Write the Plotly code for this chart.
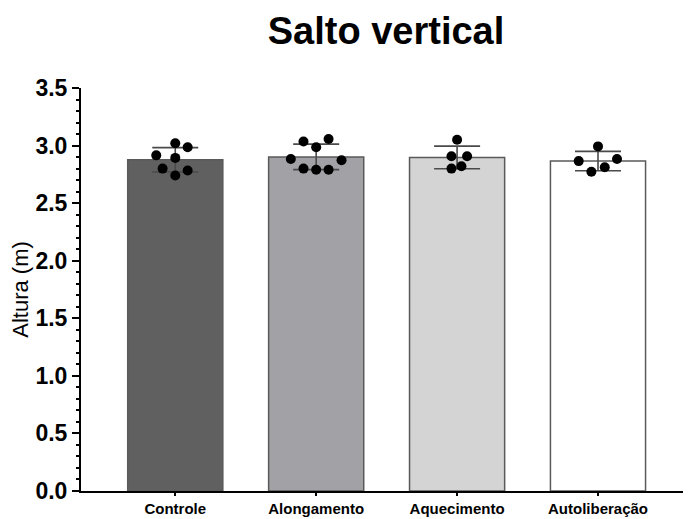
import numpy as np
import plotly.graph_objects as go

# ---- data ----
categories = ["Controle", "Alongamento", "Aquecimento", "Autoliberação"]
controle = [3.02, 2.985, 2.915, 2.893, 2.80, 2.783, 2.74]
alongamento = [3.036, 3.057, 2.985, 2.884, 2.872, 2.80, 2.79, 2.79]
aquecimento = [3.05, 2.907, 2.907, 2.82, 2.80]
autoliberacao = [2.993, 2.865, 2.884, 2.812, 2.772]
y_ticks = [0.0, 0.5, 1.0, 1.5, 2.0, 2.5, 3.0, 3.5]

groups = [controle, alongamento, aquecimento, autoliberacao]

# ---- style ----
bar_colors = ["#606060", "#a2a2a6", "#d4d4d4", "#ffffff"]
jitter = [
    [0.0, 0.088, -0.135, 0.0, -0.09, 0.088, 0.0],
    [-0.09, 0.088, 0.0, -0.18, 0.18, -0.09, 0.0, 0.088],
    [0.0, -0.04, 0.071, 0.031, -0.04],
    [0.0, -0.137, 0.135, 0.048, -0.047],
]
FONT = "Liberation Sans, Arial, sans-serif"
W, H = 683, 511  # page body has an 8px margin in the 691x519 window

means = [float(np.mean(g)) for g in groups]
sds = [float(np.std(g, ddof=1)) for g in groups]
xpos = list(range(len(categories)))

fig = go.Figure()
fig.add_trace(go.Bar(
    x=xpos, y=means, width=0.675,
    marker=dict(color=bar_colors, line=dict(color="#5a5a5a", width=1.5)),
    error_y=dict(type="data", array=sds, visible=True, color="#4a4a4a",
                 thickness=1.6, width=23),
    showlegend=False, hoverinfo="skip",
))

for i, g in enumerate(groups):
    fig.add_trace(go.Scatter(
        x=[i + j for j in jitter[i]], y=g, mode="markers",
        marker=dict(color="black", size=10),
        showlegend=False, hoverinfo="skip",
    ))

fig.update_layout(
    width=W, height=H,
    margin=dict(l=73, r=0, t=80, b=28, autoexpand=False),
    paper_bgcolor="white", plot_bgcolor="white",
    font=dict(family=FONT, color="black"),
    title=dict(text="Salto vertical", x=378 / W, xref="container", xanchor="center",
               y=1 - 23 / H, yref="container", yanchor="middle",
               font=dict(size=38, family=FONT, color="black", weight="bold")),
)

fig.update_xaxes(
    range=[-0.669, 3.66], tickmode="array", tickvals=xpos, ticktext=categories,
    showline=True, linecolor="black", linewidth=2, showgrid=False, zeroline=False,
    ticks="outside", ticklen=3, tickwidth=2, tickcolor="black",
    tickfont=dict(size=15, family=FONT, color="black", weight="bold"),
    automargin=False,
)
fig.update_yaxes(
    range=[0, 3.5], tickmode="array", tickvals=y_ticks,
    ticktext=[f"{v:.1f}" for v in y_ticks],
    showline=True, linecolor="black", linewidth=2, showgrid=False, zeroline=False,
    ticks="outside", ticklen=7, tickwidth=2, tickcolor="black",
    minor=dict(dtick=0.1, ticks="outside", ticklen=3.5, tickwidth=1.5, tickcolor="black", showgrid=False),
    tickfont=dict(size=23, family=FONT, color="black", weight="bold"),
    title=dict(text="Altura (m)", font=dict(size=22, family=FONT, color="black"), standoff=2),
    automargin=False,
)

fig.write_html("out.html")
